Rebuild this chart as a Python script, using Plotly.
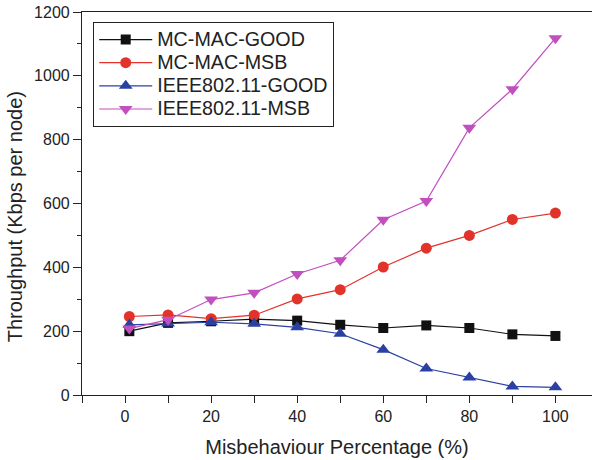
import plotly.graph_objects as go

x_vals = [1, 10, 20, 30, 40, 50, 60, 70, 80, 90, 100]
mc_good = [200, 226, 231, 238, 233, 220, 210, 218, 210, 190, 185]
mc_msb = [246, 251, 239, 250, 301, 330, 401, 460, 500, 550, 570]
ieee_good = [220, 224, 228, 223, 212, 192, 142, 83, 55, 27, 24]
ieee_msb = [208, 236, 299, 320, 379, 422, 549, 608, 837, 958, 1118]
names = ["MC-MAC-GOOD", "MC-MAC-MSB", "IEEE802.11-GOOD", "IEEE802.11-MSB"]

series = [
    (names[0], mc_good, "#111111", "square", 10),
    (names[1], mc_msb, "#e2332a", "circle", 11),
    (names[2], ieee_good, "#2b40a3", "triangle-up", 12),
    (names[3], ieee_msb, "#c14fbf", "triangle-down", 12),
]

fig = go.Figure()
for name, vals, color, sym, size in series:
    fig.add_trace(go.Scatter(
        x=x_vals, y=vals,
        name='<span style="font-size:19.7px">' + name + '</span>',
        mode="lines+markers",
        line=dict(color=color, width=1.2),
        marker=dict(symbol=sym, size=size, color=color),
    ))

font = "Liberation Sans, Arial, sans-serif"
fig.update_layout(
    width=592, height=460,
    margin=dict(l=82, r=0, t=12, b=65, autoexpand=False),
    plot_bgcolor="white", paper_bgcolor="white",
    font=dict(family=font, size=16, color="#222222"),
    showlegend=True,
    legend=dict(
        x=0.022, y=0.974, xanchor="left", yanchor="top",
        bordercolor="#222222", borderwidth=1, bgcolor="white",
        font=dict(size=15.5, color="#222222"),
        tracegroupgap=0, itemwidth=53,
    ),
    xaxis=dict(
        range=[-10, 108.5], tickmode="array", automargin=False,
        tickvals=[0, 20, 40, 60, 80, 100],
        ticks="outside", ticklen=7, tickcolor="#222222",
        minor=dict(tickvals=[-10, 10, 30, 50, 70, 90], ticks="outside", ticklen=7, tickcolor="#222222"),
        showline=True, linecolor="#222222", linewidth=1.2, mirror=True,
        showgrid=False, zeroline=False, ticklabeloverflow="allow",
        title=dict(text="Misbehaviour Percentage (%)", font=dict(size=20), standoff=15),
    ),
    xaxis2=dict(
        range=[-10, 108.5], overlaying="x", side="top", automargin=False,
        tickmode="array", tickvals=[-10, 0, 10, 20, 30, 40, 50, 60, 70, 80, 90, 100],
        ticks="inside", ticklen=5, tickcolor="#222222",
        showticklabels=False, showgrid=False, zeroline=False, showline=False,
    ),
    yaxis=dict(
        range=[0, 1200], tickmode="array", automargin=False,
        tickvals=[0, 200, 400, 600, 800, 1000, 1200],
        ticks="outside", ticklen=8, tickcolor="#222222",
        minor=dict(tickvals=[100, 300, 500, 700, 900, 1100], ticks="outside", ticklen=4, tickcolor="#222222"),
        showline=True, linecolor="#222222", linewidth=1.2,
        showgrid=False, zeroline=False, ticklabeloverflow="allow",
    ),
    annotations=[dict(
        text="Throughput (Kbps per node)", textangle=-90,
        xref="paper", yref="paper", x=0, y=0.464,
        xanchor="center", yanchor="middle", xshift=-67,
        showarrow=False, font=dict(size=20, color="#222222"),
    )],
)

fig.write_html("out.html", config={"displayModeBar": False},
               post_script="document.body.style.margin='0';")
